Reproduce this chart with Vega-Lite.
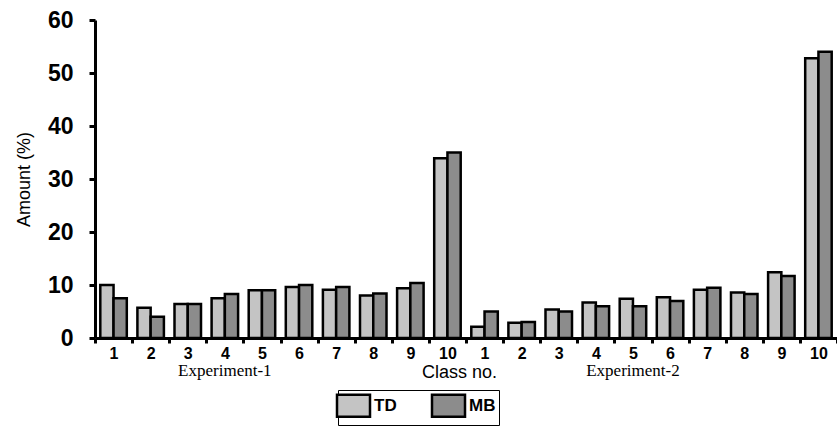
{
  "$schema": "https://vega.github.io/schema/vega-lite/v6.json",
  "width": 742,
  "height": 318,
  "autosize": {"type": "none"},
  "padding": {"left": 95, "top": 20, "right": 0, "bottom": 88},
  "background": "white",
  "config": {"view": {"stroke": null}, "font": "Liberation Sans"},
  "datasets": {
    "bars": [
      {"slot": "E1 1", "series": "TD", "amount": 10.0}, {"slot": "E1 1", "series": "MB", "amount": 7.5},
      {"slot": "E1 2", "series": "TD", "amount": 5.7}, {"slot": "E1 2", "series": "MB", "amount": 4.0},
      {"slot": "E1 3", "series": "TD", "amount": 6.4}, {"slot": "E1 3", "series": "MB", "amount": 6.4},
      {"slot": "E1 4", "series": "TD", "amount": 7.5}, {"slot": "E1 4", "series": "MB", "amount": 8.3},
      {"slot": "E1 5", "series": "TD", "amount": 9.0}, {"slot": "E1 5", "series": "MB", "amount": 9.0},
      {"slot": "E1 6", "series": "TD", "amount": 9.6}, {"slot": "E1 6", "series": "MB", "amount": 10.0},
      {"slot": "E1 7", "series": "TD", "amount": 9.1}, {"slot": "E1 7", "series": "MB", "amount": 9.6},
      {"slot": "E1 8", "series": "TD", "amount": 8.0}, {"slot": "E1 8", "series": "MB", "amount": 8.4},
      {"slot": "E1 9", "series": "TD", "amount": 9.4}, {"slot": "E1 9", "series": "MB", "amount": 10.4},
      {"slot": "E1 10", "series": "TD", "amount": 33.9}, {"slot": "E1 10", "series": "MB", "amount": 35.0},
      {"slot": "E2 1", "series": "TD", "amount": 2.1}, {"slot": "E2 1", "series": "MB", "amount": 5.0},
      {"slot": "E2 2", "series": "TD", "amount": 2.9}, {"slot": "E2 2", "series": "MB", "amount": 3.0},
      {"slot": "E2 3", "series": "TD", "amount": 5.4}, {"slot": "E2 3", "series": "MB", "amount": 5.0},
      {"slot": "E2 4", "series": "TD", "amount": 6.7}, {"slot": "E2 4", "series": "MB", "amount": 6.0},
      {"slot": "E2 5", "series": "TD", "amount": 7.4}, {"slot": "E2 5", "series": "MB", "amount": 6.0},
      {"slot": "E2 6", "series": "TD", "amount": 7.7}, {"slot": "E2 6", "series": "MB", "amount": 7.0},
      {"slot": "E2 7", "series": "TD", "amount": 9.1}, {"slot": "E2 7", "series": "MB", "amount": 9.5},
      {"slot": "E2 8", "series": "TD", "amount": 8.6}, {"slot": "E2 8", "series": "MB", "amount": 8.3},
      {"slot": "E2 9", "series": "TD", "amount": 12.4}, {"slot": "E2 9", "series": "MB", "amount": 11.7},
      {"slot": "E2 10", "series": "TD", "amount": 52.8}, {"slot": "E2 10", "series": "MB", "amount": 54.0}
    ],
    "notes": [
      {"slot": "E1 4", "text": "Experiment-1", "pos": -6.3},
      {"slot": "E2 5", "text": "Experiment-2", "pos": -6.3}
    ]
  },
  "layer": [
    {
      "data": {"name": "bars"},
      "mark": {"type": "bar", "stroke": "black", "strokeWidth": 2.5},
      "encoding": {
        "x": {
          "field": "slot", "type": "nominal", "sort": null,
          "scale": {"domain": ["E1 1","E1 2","E1 3","E1 4","E1 5","E1 6","E1 7","E1 8","E1 9","E1 10","E2 1","E2 2","E2 3","E2 4","E2 5","E2 6","E2 7","E2 8","E2 9","E2 10"], "paddingInner": 0, "paddingOuter": 0},
          "axis": {
            "title": "Class no.", "titleFont": "Liberation Sans", "titleFontSize": 18, "titleFontWeight": "normal", "titleColor": "black", "titlePadding": 2, "titleX": 364,
            "labelExpr": "split(datum.label, ' ')[1]", "labelAngle": 0, "labelFontSize": 16, "labelFontWeight": "bold", "labelColor": "black", "labelPadding": 2,
            "tickBand": "extent", "tickSize": 5, "tickWidth": 3, "tickColor": "black",
            "domainColor": "black", "domainWidth": 3
          }
        },
        "xOffset": {"field": "series", "type": "nominal", "sort": ["TD", "MB"], "scale": {"paddingInner": 0, "paddingOuter": 0.4}},
        "y": {
          "field": "amount", "type": "quantitative",
          "scale": {"domain": [0, 60], "nice": false},
          "axis": {
            "title": "Amount (%)", "titleFont": "Liberation Sans", "titleFontSize": 18, "titleFontWeight": "normal", "titleColor": "black", "titlePadding": 14,
            "values": [0,5,10,15,20,25,30,35,40,45,50,55,60],
            "labelExpr": "datum.value % 10 === 0 ? datum.label : ''",
            "labelFontSize": 23, "labelFontWeight": "bold", "labelColor": "black", "labelPadding": 16,
            "tickSize": 6, "tickWidth": 3, "tickColor": "black",
            "domainColor": "black", "domainWidth": 3, "grid": false
          }
        },
        "fill": {
          "field": "series", "type": "nominal",
          "scale": {"domain": ["TD", "MB"], "range": ["#c4c4c4", "#8c8c8c"]},
          "legend": {
            "title": null, "orient": "none", "legendX": 243, "legendY": 370, "direction": "horizontal",
            "strokeColor": "black", "padding": 3,
            "symbolType": "M-1.5,-1H1.5V1H-1.5Z", "symbolSize": 484, "symbolStrokeColor": "black", "symbolStrokeWidth": 2.5, "symbolOpacity": 1,
            "labelFontSize": 17, "labelFontWeight": "bold", "labelColor": "black", "labelOffset": 8, "columnPadding": 30
          }
        }
      }
    },
    {
      "mark": {"type": "rule", "color": "black", "strokeWidth": 3},
      "encoding": {"y": {"datum": 60}}
    },
    {
      "data": {"name": "notes"},
      "mark": {"type": "text", "font": "Liberation Serif", "fontSize": 17, "color": "black", "baseline": "middle"},
      "encoding": {
        "x": {"field": "slot", "type": "nominal"},
        "y": {"field": "pos", "type": "quantitative"},
        "text": {"field": "text"}
      }
    }
  ]
}
